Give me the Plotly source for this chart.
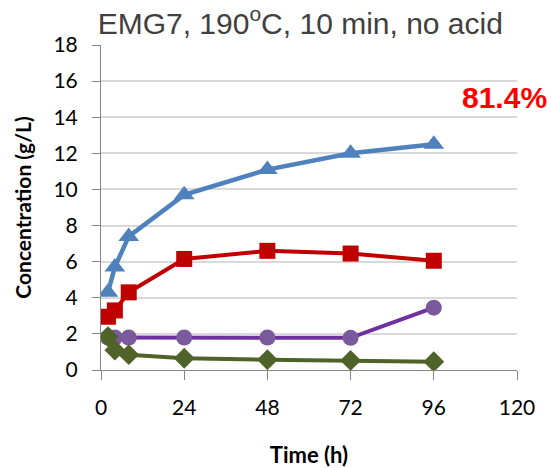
import plotly.graph_objects as go

time_h = [2, 4, 8, 24, 48, 72, 96]
blue_tri = [4.3, 5.7, 7.4, 9.7, 11.1, 12.0, 12.5]
red_sq = [2.95, 3.3, 4.3, 6.15, 6.6, 6.45, 6.05]
purple_circ = [1.8, 1.8, 1.8, 1.8, 1.8, 1.78, 3.45]
green_dia = [1.85, 1.1, 0.85, 0.65, 0.57, 0.53, 0.46]
x_ticks = [0, 24, 48, 72, 96, 120]
y_ticks = [0, 2, 4, 6, 8, 10, 12, 14, 16, 18]

fig = go.Figure()
fig.add_trace(go.Scatter(x=time_h, y=purple_circ, mode="lines+markers",
                         line=dict(color="#7030A0", width=4),
                         marker=dict(symbol="circle", size=16, color="#7A5A9C")))
fig.add_trace(go.Scatter(x=time_h, y=blue_tri, mode="lines+markers",
                         line=dict(color="#4F81BD", width=4.5),
                         marker=dict(symbol="triangle-up", size=18, color="#4F81BD")))
fig.add_trace(go.Scatter(x=time_h, y=red_sq, mode="lines+markers",
                         line=dict(color="#C00000", width=4),
                         marker=dict(symbol="square", size=16, color="#C00000")))
fig.add_trace(go.Scatter(x=time_h, y=green_dia, mode="lines+markers",
                         line=dict(color="#4F6228", width=4),
                         marker=dict(symbol="diamond", size=16, color="#4F6228")))

fig.update_layout(
    width=551, height=468,
    margin=dict(l=101, r=34, t=45, b=98),
    paper_bgcolor="white", plot_bgcolor="white",
    showlegend=False,
    title=dict(text="EMG7, 190<sup>o</sup>C, 10 min, no acid",
               x=0.545, xanchor="center", y=1 - 23 / 468, yanchor="middle",
               font=dict(family="Liberation Sans, Arial", size=30, color="#404040")),
    xaxis=dict(range=[0, 120], tickvals=x_ticks, showgrid=False, automargin=False,
               showline=True, linecolor="#868686", linewidth=1,
               ticks="outside", ticklen=9, tickcolor="#868686",
               ticklabelstandoff=10,
               tickfont=dict(family="Lato", size=21, color="black"),
               title=dict(text="<b>Time (h)</b>", standoff=29,
                          font=dict(family="Lato", size=22, color="black"))),
    yaxis=dict(range=[0, 18], tickvals=y_ticks, showgrid=True, gridcolor="#D9D9D9",
               gridwidth=1.5, zeroline=False, automargin=False,
               showline=True, linecolor="#868686", linewidth=1,
               ticks="outside", ticklen=8, tickcolor="#868686",
               ticklabelstandoff=10,
               tickfont=dict(family="Lato", size=21, color="black"),
               title=dict(text="<b>Concentration (g/L)</b>", standoff=16,
                          font=dict(family="Lato", size=21, color="black"))),
    annotations=[dict(text="<b>81.4%</b>", xref="paper", yref="paper",
                      x=0.969, y=0.838, xanchor="center", yanchor="middle",
                      showarrow=False,
                      font=dict(family="Liberation Sans, Arial", size=30, color="#FF0000"))],
)

fig.write_html("out.html")
